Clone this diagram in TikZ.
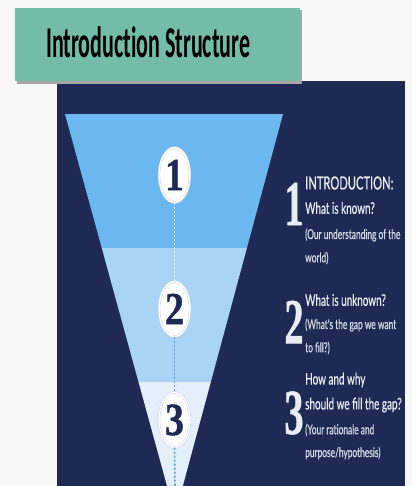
\documentclass[tikz,border=0pt]{standalone}
\usepackage{fontspec}
\newfontfamily\titlefont[FakeStretch=0.5,Ligatures=NoCommon]{Carlito}
\newfontfamily\stepfont[FakeStretch=0.62,FakeBold=0.6]{Lato}
\newfontfamily\numfont[FakeBold=1]{Liberation Serif}
\newcommand\numface[3]{\scalebox{#1}[1]{\numfont\bfseries\fontsize{#2}{#2}\selectfont #3}}
\usetikzlibrary{shapes.geometric}

\definecolor{navy}{HTML}{1F2A54}
\definecolor{bandA}{HTML}{6AB8EF}
\definecolor{bandB}{HTML}{A9D4F6}
\definecolor{bandC}{HTML}{E3F0FB}
\definecolor{titlegreen}{HTML}{73BCA6}
\definecolor{dotblue}{HTML}{4A9BE3}
\definecolor{pagebg}{HTML}{F8F8F8}
\definecolor{ink}{HTML}{E9EDF4}

\tikzset{
  oval/.style={ellipse,fill=white,draw=navy!25,double=white,double distance=1.4pt,
    line width=0.4pt,minimum width=31pt,minimum height=55pt,inner sep=0pt,text=navy},
  bignum/.style={inner sep=0pt,text=ink},
  head/.style={anchor=west,inner sep=0pt,text=ink,font=\stepfont\fontsize{18}{18}\selectfont},
  ask/.style={anchor=west,inner sep=0pt,text=ink,font=\stepfont\fontsize{16}{16}\selectfont},
  note/.style={anchor=west,inner sep=0pt,text=ink!90!navy,font=\stepfont\fontsize{13.5}{13.5}\selectfont},
  dots/.style={line width=1.6pt,dash pattern=on 2pt off 2pt}
}

\begin{document}
\begin{tikzpicture}[x=1pt,y=-1pt]
  \fill[pagebg] (0,0) rectangle (412,486);
  \useasboundingbox (0,0) rectangle (412,486);
  \clip (0,0) rectangle (412,486);
  % dark panel
  \fill[navy] (57,81) rectangle (405,486);
  % funnel
  \begin{scope}
    \clip (65,114) -- (283,114) -- (175,515) -- cycle;
    \fill[bandA] (60,114) rectangle (290,248);
    \fill[bandB] (60,248) rectangle (290,382);
    \fill[bandC] (60,382) rectangle (290,520);
  \end{scope}
  % title
  \fill[black!35] (17,10) rectangle (302,84);
  \fill[titlegreen] (15,8) rectangle (300,81);
  \node[anchor=base west,inner sep=0pt,font=\titlefont\bfseries\fontsize{44}{44}\selectfont] (title) at (46,58) {Introduction Structure};
  % steps
  \foreach \n/\y in {1/175,2/309,3/420}
    \node[oval] (o\n) at (174.5,\y) {\numface{0.82}{46}{\n}};
  \coordinate (tip) at (175,486);
  \draw[dots,white] (o1.south) -- (o2.north);
  \draw[dots,dotblue] (o2.south) -- (o3.north);
  \draw[dots,dotblue] (o3.south) -- (tip);
  % step 1
  \node[bignum] (k1) at (294,204) {\numface{0.6}{64}{1}};
  \node[head] (t1a) at (305,183) {INTRODUCTION:};
  \node[ask] (t1b) at (305,208) {What is known?};
  \node[note] (t1c) at (305,235) {(Our understanding of the};
  \node[note] (t1d) at (305,258) {world)};
  % step 2
  \node[bignum] (k2) at (294,322) {\numface{0.6}{64}{2}};
  \node[ask] (t2a) at (305,300) {What is unknown?};
  \node[note] (t2b) at (305,325) {(What's the gap we want};
  \node[note] (t2c) at (305,348) {to fill?)};
  % step 3
  \node[bignum] (k3) at (294,413) {\numface{0.6}{64}{3}};
  \node[ask] (t3a) at (305,380) {How and why};
  \node[ask] (t3b) at (305,405) {should we fill the gap?};
  \node[note] (t3c) at (305,430) {(Your rationale and};
  \node[note] (t3d) at (305,453) {purpose/hypothesis)};
\end{tikzpicture}
\end{document}
